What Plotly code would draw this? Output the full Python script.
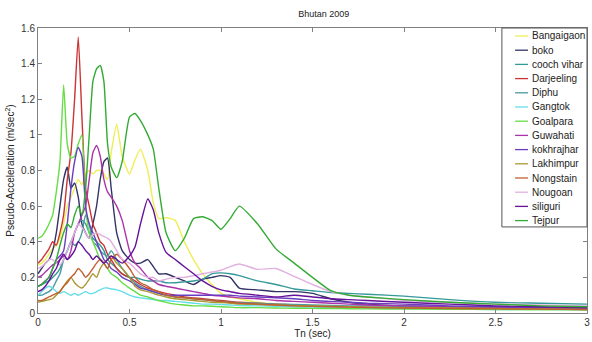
import plotly.graph_objects as go

T = [0, 0.02, 0.04, 0.06, 0.08, 0.10, 0.12, 0.14, 0.16, 0.18,
     0.20, 0.22, 0.24, 0.26, 0.28, 0.30, 0.32, 0.34, 0.36, 0.38,
     0.40, 0.43, 0.46, 0.50, 0.53, 0.56, 0.60, 0.63, 0.66, 0.70,
     0.75, 0.80, 0.85, 0.90, 0.95, 1.00, 1.05, 1.10, 1.20, 1.30,
     1.40, 1.50, 1.60, 1.70, 1.80, 2.00, 2.25, 2.50, 2.75, 3.00]

stations = ["Bangaigaon", "boko", "cooch vihar", "Darjeeling", "Diphu", "Gangtok",
            "Goalpara", "Guwahati", "kokhrajhar", "Lakhimpur", "Nongstain",
            "Nougoan", "siliguri", "Tejpur"]

colors = ["#eeee55", "#333366", "#339999", "#cc3333", "#4a9aa0", "#66dde8",
          "#66dd44", "#aa33aa", "#6a3cc0", "#aa9933", "#c06030",
          "#e0b0e0", "#661199", "#33aa33"]

bangaigaon = [0.27, 0.28, 0.30, 0.33, 0.36, 0.38, 0.42, 0.50, 0.60, 0.65,
              0.70, 0.75, 0.72, 0.78, 0.80, 0.78, 0.80, 0.80, 0.78, 0.75,
              0.90, 1.06, 0.88, 0.78, 0.86, 0.92, 0.80, 0.62, 0.53, 0.535,
              0.52, 0.40, 0.30, 0.22, 0.16, 0.11, 0.09, 0.08, 0.06, 0.05,
              0.045, 0.04, 0.035, 0.033, 0.03, 0.028, 0.025, 0.022, 0.02, 0.018]
boko = [0.22, 0.25, 0.28, 0.30, 0.35, 0.45, 0.60, 0.75, 0.82, 0.70,
        0.73, 0.65, 0.50, 0.45, 0.42, 0.50, 0.60, 0.75, 0.85, 0.87,
        0.70, 0.45, 0.35, 0.30, 0.28, 0.28, 0.30, 0.26, 0.22, 0.22,
        0.20, 0.18, 0.16, 0.19, 0.20, 0.21, 0.20, 0.14, 0.13, 0.12,
        0.12, 0.11, 0.08, 0.06, 0.05, 0.04, 0.035, 0.03, 0.028, 0.025]
cooch_vihar = [0.15, 0.16, 0.17, 0.18, 0.20, 0.22, 0.25, 0.30, 0.35, 0.40,
               0.45, 0.50, 0.52, 0.50, 0.45, 0.42, 0.40, 0.38, 0.35, 0.30,
               0.28, 0.25, 0.22, 0.20, 0.20, 0.19, 0.18, 0.18, 0.18, 0.17,
               0.17, 0.175, 0.18, 0.19, 0.22, 0.225, 0.22, 0.21, 0.18, 0.16,
               0.135, 0.125, 0.115, 0.11, 0.105, 0.095, 0.075, 0.06, 0.055, 0.05]
darjeeling = [0.28, 0.30, 0.33, 0.36, 0.40, 0.38, 0.45, 0.55, 0.75, 0.90,
              1.20, 1.55, 1.10, 0.70, 0.60, 0.50, 0.45, 0.40, 0.38, 0.33,
              0.30, 0.25, 0.22, 0.20, 0.18, 0.16, 0.14, 0.13, 0.12, 0.11,
              0.10, 0.09, 0.085, 0.08, 0.075, 0.07, 0.065, 0.06, 0.055, 0.05,
              0.045, 0.04, 0.038, 0.035, 0.033, 0.03, 0.027, 0.025, 0.022, 0.02]
diphu = [0.10, 0.10, 0.11, 0.12, 0.14, 0.18, 0.22, 0.30, 0.35, 0.40,
         0.38, 0.40, 0.45, 0.55, 0.50, 0.40, 0.38, 0.35, 0.33, 0.32,
         0.35, 0.30, 0.25, 0.20, 0.17, 0.15, 0.13, 0.12, 0.11, 0.10,
         0.09, 0.085, 0.08, 0.075, 0.07, 0.065, 0.06, 0.058, 0.055, 0.05,
         0.048, 0.045, 0.043, 0.04, 0.04, 0.038, 0.035, 0.032, 0.03, 0.028]
gangtok = [0.10, 0.12, 0.14, 0.15, 0.14, 0.12, 0.11, 0.12, 0.11, 0.10,
           0.11, 0.10, 0.11, 0.12, 0.11, 0.11, 0.12, 0.13, 0.14, 0.14,
           0.135, 0.13, 0.12, 0.10, 0.09, 0.085, 0.08, 0.075, 0.07, 0.07,
           0.065, 0.06, 0.055, 0.05, 0.05, 0.048, 0.045, 0.042, 0.04, 0.038,
           0.035, 0.033, 0.03, 0.03, 0.028, 0.025, 0.022, 0.02, 0.02, 0.018]
goalpara = [0.42, 0.43, 0.46, 0.50, 0.55, 0.68, 0.85, 1.28, 0.95, 0.87,
            0.88, 0.95, 1.00, 0.60, 0.45, 0.40, 0.35, 0.30, 0.28, 0.25,
            0.22, 0.20, 0.17, 0.14, 0.12, 0.10, 0.09, 0.08, 0.07, 0.06,
            0.05, 0.045, 0.04, 0.04, 0.038, 0.035, 0.033, 0.03, 0.03, 0.028,
            0.027, 0.026, 0.025, 0.024, 0.023, 0.022, 0.021, 0.02, 0.02, 0.02]
guwahati = [0.20, 0.21, 0.23, 0.25, 0.27, 0.28, 0.30, 0.32, 0.30, 0.35,
            0.45, 0.50, 0.55, 0.60, 0.75, 0.90, 0.94, 0.88, 0.75, 0.68,
            0.65, 0.60, 0.52, 0.35, 0.28, 0.25, 0.20, 0.18, 0.16, 0.15,
            0.14, 0.13, 0.12, 0.11, 0.10, 0.095, 0.09, 0.085, 0.08, 0.07,
            0.065, 0.06, 0.055, 0.05, 0.045, 0.04, 0.035, 0.03, 0.027, 0.025]
kokhrajhar = [0.15, 0.16, 0.18, 0.20, 0.25, 0.30, 0.32, 0.35, 0.50, 0.70,
              0.85, 0.93, 0.88, 0.60, 0.50, 0.45, 0.40, 0.35, 0.30, 0.28,
              0.25, 0.23, 0.20, 0.18, 0.16, 0.14, 0.13, 0.12, 0.11, 0.10,
              0.10, 0.10, 0.10, 0.10, 0.10, 0.10, 0.10, 0.095, 0.09, 0.085,
              0.08, 0.07, 0.065, 0.06, 0.055, 0.05, 0.04, 0.035, 0.03, 0.025]
lakhimpur = [0.06, 0.065, 0.07, 0.075, 0.08, 0.10, 0.12, 0.15, 0.18, 0.20,
             0.17, 0.15, 0.14, 0.16, 0.19, 0.22, 0.20, 0.25, 0.28, 0.30,
             0.32, 0.28, 0.25, 0.20, 0.15, 0.13, 0.12, 0.11, 0.10, 0.09,
             0.08, 0.075, 0.07, 0.065, 0.06, 0.058, 0.055, 0.05, 0.048, 0.045,
             0.042, 0.04, 0.038, 0.035, 0.033, 0.03, 0.028, 0.025, 0.023, 0.02]
nongstain = [0.07, 0.07, 0.08, 0.09, 0.10, 0.11, 0.12, 0.15, 0.17, 0.20,
             0.22, 0.25, 0.23, 0.20, 0.22, 0.25, 0.28, 0.30, 0.28, 0.25,
             0.30, 0.33, 0.30, 0.25, 0.20, 0.17, 0.15, 0.13, 0.12, 0.10,
             0.09, 0.085, 0.08, 0.075, 0.07, 0.065, 0.06, 0.055, 0.05, 0.045,
             0.04, 0.037, 0.035, 0.033, 0.03, 0.028, 0.025, 0.023, 0.022, 0.02]
nougoan = [0.25, 0.26, 0.28, 0.30, 0.30, 0.28, 0.27, 0.30, 0.35, 0.40,
           0.45, 0.50, 0.48, 0.45, 0.42, 0.44, 0.45, 0.44, 0.43, 0.42,
           0.40, 0.35, 0.30, 0.28, 0.25, 0.22, 0.20, 0.20, 0.18, 0.19,
           0.20, 0.20, 0.21, 0.22, 0.23, 0.24, 0.26, 0.275, 0.245, 0.25,
           0.205, 0.16, 0.12, 0.10, 0.09, 0.07, 0.06, 0.05, 0.045, 0.04]
siliguri = [0.12, 0.13, 0.15, 0.18, 0.22, 0.25, 0.30, 0.33, 0.30, 0.32,
            0.35, 0.40, 0.38, 0.35, 0.33, 0.30, 0.32, 0.30, 0.28, 0.30,
            0.32, 0.30, 0.28, 0.32, 0.37, 0.50, 0.64, 0.58, 0.45, 0.34,
            0.30, 0.26, 0.22, 0.18, 0.15, 0.13, 0.12, 0.11, 0.10, 0.09,
            0.10, 0.09, 0.08, 0.075, 0.07, 0.06, 0.05, 0.04, 0.035, 0.03]
tejpur = [0.15, 0.16, 0.18, 0.20, 0.25, 0.30, 0.38, 0.45, 0.50, 0.48,
          0.55, 0.60, 0.55, 0.70, 1.00, 1.30, 1.37, 1.39, 1.30, 0.95,
          0.82, 0.76, 0.85, 1.10, 1.12, 1.08, 1.00, 0.92, 0.70, 0.45,
          0.35, 0.42, 0.53, 0.54, 0.52, 0.47, 0.53, 0.60, 0.50, 0.36,
          0.28, 0.20, 0.125, 0.10, 0.09, 0.075, 0.06, 0.05, 0.04, 0.035]

series = [bangaigaon, boko, cooch_vihar, darjeeling, diphu, gangtok, goalpara,
          guwahati, kokhrajhar, lakhimpur, nongstain, nougoan, siliguri, tejpur]

fig = go.Figure()
for name, col, vals in zip(stations, colors, series):
    fig.add_trace(go.Scatter(x=T, y=vals, mode="lines", name=name, showlegend=False,
                             line=dict(color=col, width=1.4, shape="spline", smoothing=0.5)))

# compact MATLAB-style legend box in paper coordinates
PLOT_H = 285.0
ROW = 14.2
FIRST = 8.0
shapes = [dict(type="rect", xref="paper", yref="paper", x0=0.845, x1=1.0, y0=0.302, y1=1.0,
               line=dict(color="#555", width=1), fillcolor="white", layer="above")]
annotations = []
for i, (name, col) in enumerate(zip(stations, colors)):
    yp = 1 - (FIRST + ROW * i) / PLOT_H
    shapes.append(dict(type="line", xref="paper", yref="paper", x0=0.869, x1=0.8925,
                       y0=yp, y1=yp, line=dict(color=col, width=1.3), layer="above"))
    annotations.append(dict(xref="paper", yref="paper", x=0.896, y=yp, xanchor="left",
                            yanchor="middle", text=name, showarrow=False,
                            font=dict(size=10, color="#222")))

axis_common = dict(showline=True, linecolor="#808080", linewidth=1, mirror="allticks",
                   ticks="inside", ticklen=4, tickcolor="#808080", showgrid=False,
                   zeroline=False, tickfont=dict(size=10, color="#333"), automargin=False)

fig.update_layout(
    width=592, height=342,
    margin=dict(l=38, r=5, t=28, b=29),
    paper_bgcolor="white", plot_bgcolor="white",
    font=dict(family="Liberation Sans, Arial, sans-serif", size=10, color="#222"),
    title=dict(text="Bhutan 2009", x=0.547, xanchor="center", y=0.959, yanchor="middle",
               font=dict(size=9, color="#222")),
    xaxis=dict(range=[0, 3], tick0=0, dtick=0.5,
               title=dict(text="Tn (sec)", standoff=2, font=dict(size=10)), **axis_common),
    yaxis=dict(range=[0, 1.6], tick0=0, dtick=0.2,
               title=dict(text="Pseudo-Acceleration (m/sec<sup>2</sup>)", standoff=4,
                          font=dict(size=10)), **axis_common),
    shapes=shapes,
    annotations=annotations,
    showlegend=False,
)

fig.write_html("out.html", config={"displayModeBar": False},
               post_script="document.body.style.margin='0';document.body.style.overflow='hidden';")
